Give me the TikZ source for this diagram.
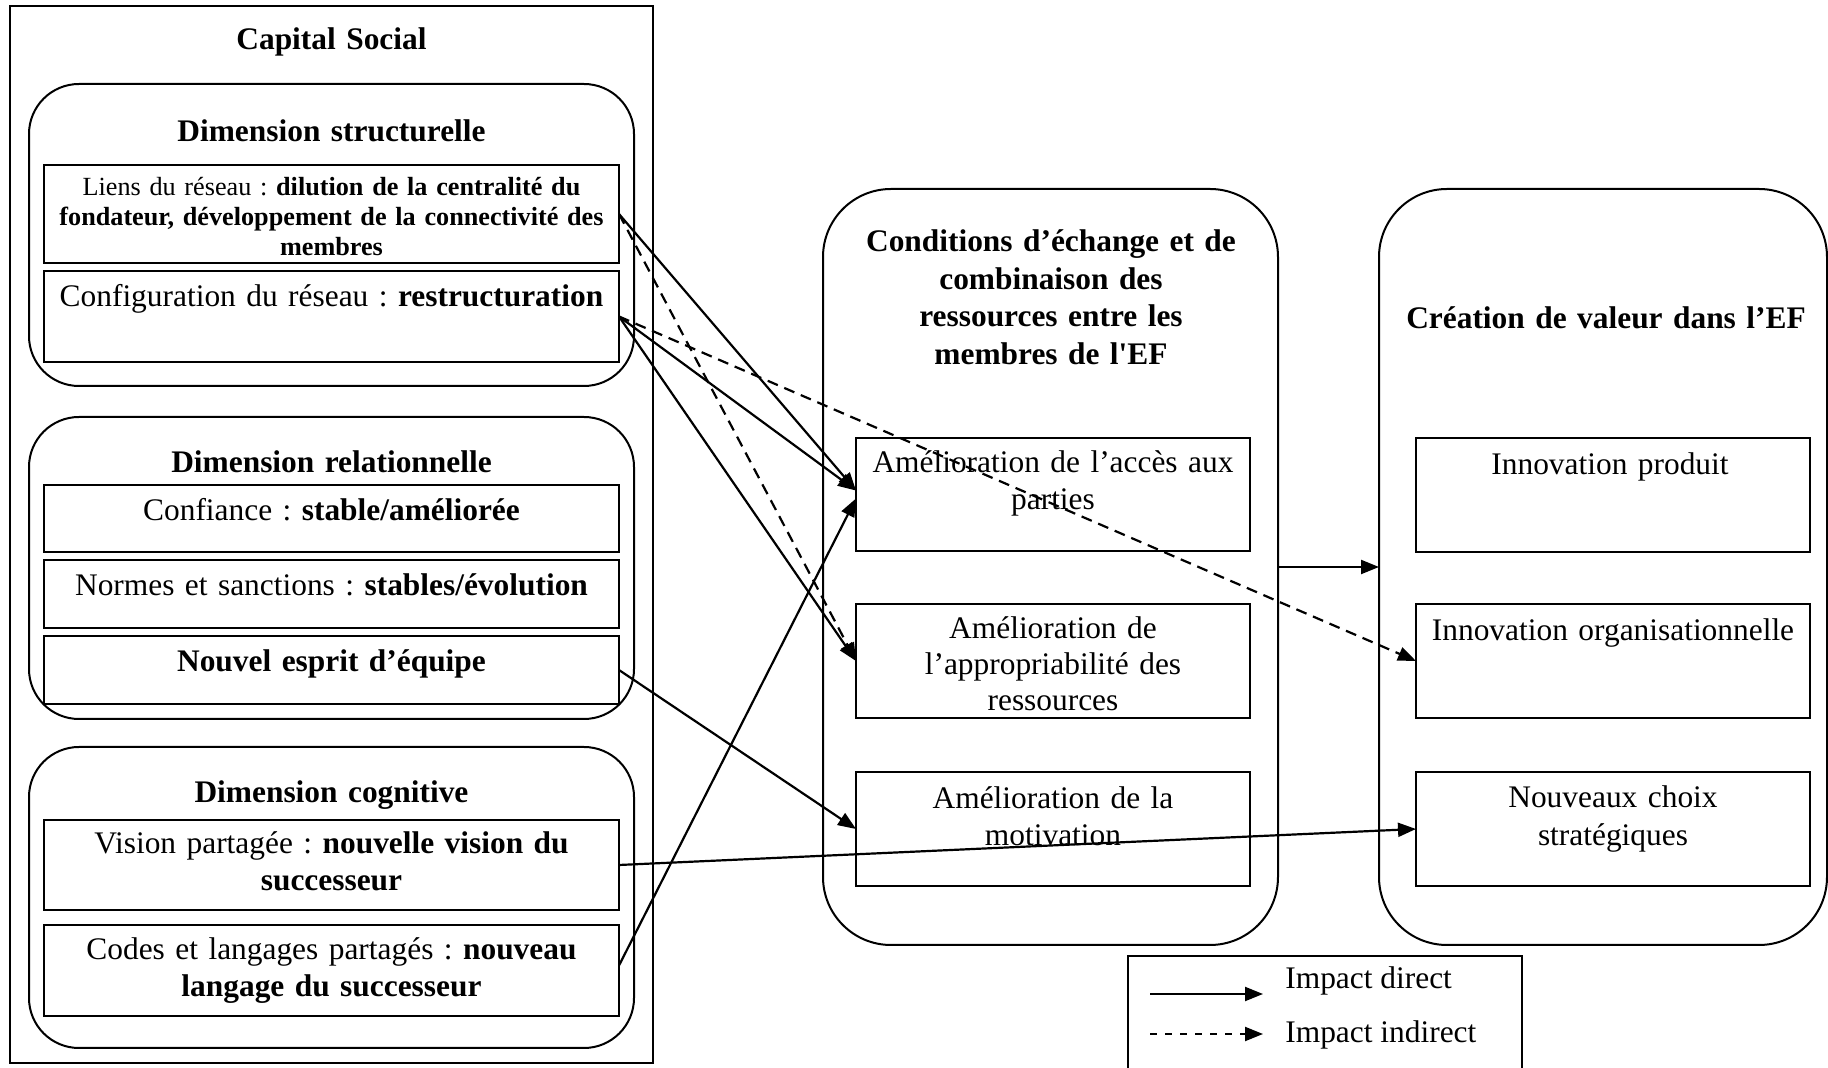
\documentclass[tikz,border=0pt]{standalone}
\usepackage{fontspec}
\setmainfont{Liberation Serif}
\usetikzlibrary{arrows.meta}

\begin{document}
\frenchspacing
\begin{tikzpicture}[x=0.5pt,y=-0.5pt,
  frame/.style={draw, line width=1pt, rectangle, inner sep=0pt, outer sep=0pt, fill=white},
  pill/.style={frame, rounded corners=25pt},
  bigpill/.style={frame, rounded corners=34pt},
  txt/.style={anchor=base, align=center, inner sep=0pt, text width=#1,
              font=\fontsize{15.7pt}{18.5pt}\selectfont},
  txt/.default=285pt,
  small/.style={font=\fontsize{13.1pt}{15pt}\selectfont},
  direct/.style={line width=1.1pt, -{Triangle[length=9pt,width=7pt]}},
  indirect/.style={direct, dash pattern=on 5.5pt off 3.5pt},
  keydash/.style={direct, dash pattern=on 3.5pt off 4pt}
]
\useasboundingbox (0,0) rectangle (1828,1068);

% ---- Capital social (left column) ----
\node[frame, minimum width=321.5pt, minimum height=528.5pt] (capital) at (331.5,534.5) {};
\node[txt] (tcapital) at (331.5,50) {\textbf{Capital Social}};

% structural dimension
\node[pill, minimum width=302.5pt, minimum height=151pt] (dimS) at (331.5,235) {};
\node[txt] (tdimS) at (331.5,142) {\textbf{Dimension structurelle}};
\node[frame, minimum width=287.5pt, minimum height=49pt] (liens) at (331.5,214) {};
\node[txt, small] (tliens) at (331.5,196)
  {Liens du réseau : \textbf{dilution de la centralité du}\\
   \textbf{fondateur, développement de la connectivité des}\\
   \textbf{membres}};
\node[frame, minimum width=287.5pt, minimum height=45.5pt] (config) at (331.5,316.5) {};
\node[txt] (tconfig) at (331.5,307) {Configuration du réseau : \textbf{restructuration}};

% relational dimension
\node[pill, minimum width=302.5pt, minimum height=151pt] (dimR) at (331.5,568) {};
\node[txt] (tdimR) at (331.5,473) {\textbf{Dimension relationnelle}};
\node[frame, minimum width=287.5pt, minimum height=33.5pt] (confiance) at (331.5,518.5) {};
\node[txt] (tconfiance) at (331.5,521) {Confiance : \textbf{stable/améliorée}};
\node[frame, minimum width=287.5pt, minimum height=34pt] (normes) at (331.5,594) {};
\node[txt] (tnormes) at (331.5,596) {Normes et sanctions : \textbf{stables/évolution}};
\node[frame, minimum width=287.5pt, minimum height=34pt] (nouvel) at (331.5,670) {};
\node[txt] (tnouvel) at (331.5,672) {\textbf{Nouvel esprit d’équipe}};

% cognitive dimension
\node[pill, minimum width=302.5pt, minimum height=150.5pt] (dimC) at (331.5,897.5) {};
\node[txt] (tdimC) at (331.5,803) {\textbf{Dimension cognitive}};
\node[frame, minimum width=287.5pt, minimum height=45pt] (vision) at (331.5,865) {};
\node[txt] (tvision) at (331.5,854)
  {Vision partagée : \textbf{nouvelle vision du}\\ \textbf{successeur}};
\node[frame, minimum width=287.5pt, minimum height=45.5pt] (codes) at (331.5,970.5) {};
\node[txt] (tcodes) at (331.5,960)
  {Codes et langages partagés : \textbf{nouveau}\\ \textbf{langage du successeur}};

% ---- Exchange and combination conditions (middle column) ----
\node[bigpill, minimum width=227.5pt, minimum height=378pt] (echange) at (1050.5,567) {};
\node[txt=220pt, font=\fontsize{15.7pt}{18.75pt}\selectfont] (techange) at (1051,252)
  {\textbf{Conditions d’échange et de}\\ \textbf{combinaison des}\\
   \textbf{ressources entre les}\\ \textbf{membres de l\textquotesingle EF}};
\node[frame, minimum width=197pt, minimum height=56.5pt] (acces) at (1053,494.5) {};
\node[txt=220pt, font=\fontsize{15.7pt}{18.25pt}\selectfont] (tacces) at (1053,473)
  {Amélioration de l’accès aux\\ parties};
\node[frame, minimum width=197pt, minimum height=57pt] (approp) at (1053,661) {};
\node[txt=220pt, font=\fontsize{15.7pt}{18pt}\selectfont] (tapprop) at (1053,639)
  {Amélioration de\\ l’appropriabilité des\\ ressources};
\node[frame, minimum width=197pt, minimum height=57pt] (motiv) at (1053,829) {};
\node[txt=220pt] (tmotiv) at (1053,809) {Amélioration de la\\ motivation};

% ---- Value creation (right column) ----
\node[bigpill, minimum width=224pt, minimum height=378pt] (valeur) at (1603,567) {};
\node[txt=220pt] (tvaleur) at (1606,329) {\textbf{Création de valeur dans l’EF}};
\node[frame, minimum width=197pt, minimum height=57pt] (produit) at (1613,495) {};
\node[txt=220pt] (tproduit) at (1610,475) {Innovation produit};
\node[frame, minimum width=197pt, minimum height=57pt] (org) at (1613,661) {};
\node[txt=220pt] (torg) at (1613,641) {Innovation organisationnelle};
\node[frame, minimum width=197pt, minimum height=57pt] (choix) at (1613,829) {};
\node[txt=220pt, font=\fontsize{15.7pt}{19pt}\selectfont] (tchoix) at (1613,808)
  {Nouveaux choix\\ stratégiques};

% ---- Impacts ----
\draw[direct]   (liens.east)  -- ([yshift=2pt]acces.west);
\draw[indirect] (liens.east)  -- (approp.west);
\draw[direct]   (config.east) -- ([yshift=2pt]acces.west);
\draw[direct]   (config.east) -- (approp.west);
\draw[indirect] (config.east) -- (org.west);
\draw[direct]   (nouvel.east) -- (motiv.west);
\draw[direct]   (vision.east) -- (choix.west);
\draw[direct]   ([yshift=2.5pt]codes.east) -- ([yshift=-2pt]acces.west);
\draw[direct]   (echange.east) -- (valeur.west);

% ---- Key ----
\draw[line width=1pt] (1128,1068) |- (1522,956) -- (1522,1068);
\coordinate (kd1) at (1150,994);  \coordinate (kd2) at (1263,994);
\coordinate (ki1) at (1150,1034); \coordinate (ki2) at (1263,1034);
\draw[direct]  (kd1) -- (kd2);
\draw[keydash] (ki1) -- (ki2);
\node[anchor=base west, inner sep=0pt, font=\fontsize{15.7pt}{18.5pt}\selectfont]
  (tkd) at (1285,989) {Impact direct};
\node[anchor=base west, inner sep=0pt, font=\fontsize{15.7pt}{18.5pt}\selectfont]
  (tki) at (1285,1043) {Impact indirect};
\end{tikzpicture}
\end{document}
